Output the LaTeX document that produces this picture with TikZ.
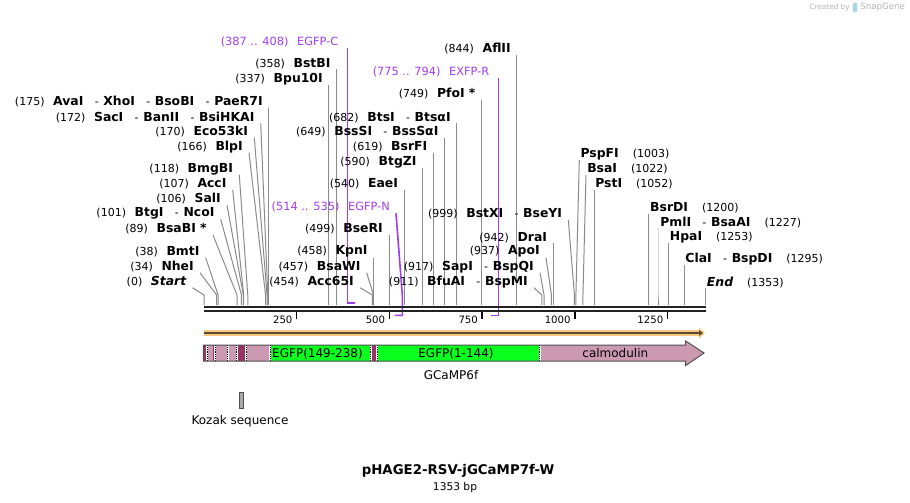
\documentclass[tikz,border=0pt]{standalone}
\usepackage{fontspec}
\setmainfont{DejaVu Sans}
\usetikzlibrary{calc,arrows.meta}
\definecolor{conngray}{HTML}{8A8A8A}
\definecolor{prim}{HTML}{A33CF0}
\definecolor{featpink}{HTML}{CC99B3}
\definecolor{featmaroon}{HTML}{993366}
\definecolor{featgreen}{HTML}{0AFF1E}
\definecolor{orangelight}{HTML}{F7C97C}
\definecolor{orangedark}{HTML}{5C4A2E}
\definecolor{bbcol}{HTML}{222222}
\definecolor{featborder}{HTML}{505050}
\definecolor{kozakfill}{HTML}{A8A8A8}
\definecolor{logoblue}{HTML}{9FD6F5}
\definecolor{sggray}{HTML}{B4B4B4}

\newcommand{\gp}{\hspace{6.5pt}}
\newcommand{\gpR}{\hspace{10.5pt}}
\newcommand{\sepx}{\hspace{8.5pt}-\hspace{3.5pt}}
\newcommand{\nm}[1]{{\fontsize{9.3}{10}\selectfont\bfseries #1}}
\newcommand{\nmi}[1]{{\fontsize{9.3}{10}\selectfont\bfseries\itshape #1}}

\tikzset{
  lab/.style={inner sep=0pt, font=\fontsize{8.25}{10}\selectfont, text=black},
  plab/.style={inner sep=0pt, font=\fontsize{8.5}{10}\selectfont, text=prim},
  conn/.style={draw=conngray, line width=0.75pt},
  pline/.style={draw=prim, line width=1.2pt},
  ftext/.style={inner sep=0pt, font=\fontsize{9}{11}\selectfont, text=black},
  ticklab/.style={inner sep=0pt, font=\fontsize{7.6}{9}\selectfont, text=black},
  tickline/.style={draw=black, line width=1.1pt},
  sepwhite/.style={draw=white, line width=1.5pt},
  sepdot/.style={draw=black, line width=0.6pt, dash pattern=on 0.7pt off 0.7pt},
}

% left label: id, line-start x, y centre, text, bp position
\newcommand{\siteL}[5]{%
  \node[lab,anchor=east] (#1) at ({#2-6},#3) {#4};
  \coordinate (#1k) at ({204+0.3708*#5},295);
  \coordinate (#1s) at ({204+0.3708*#5},305);
  \draw[conn] ($(#1.east)+(6,6)$) -- (#1k) -- (#1s);
}
% right label: id, line-start x, y centre, text, bp position
\newcommand{\siteR}[5]{%
  \node[lab,anchor=west] (#1) at ({#2+1},#3) {#4};
  \coordinate (#1k) at ({204+0.3708*#5},295);
  \coordinate (#1s) at ({204+0.3708*#5},305);
  \draw[conn] ($(#1.west)+(-1,6)$) -- (#1k) -- (#1s);
}

\begin{document}
\begin{tikzpicture}[x=0.75pt,y=-0.75pt]
\useasboundingbox (0,0) rectangle (910,503);

% ---------- primers (drawn first, under backbone) ----------
\node[plab,anchor=east] (egfpc) at ({204+0.3708*387-9},42.3) {(387 .. 408)\gp EGFP-C};
\coordinate (egfpcA) at ({204+0.3708*387},302.7);
\coordinate (egfpcB) at ({204+0.3708*408},302.7);
\draw[pline] ($(egfpc.east)+(9,6)$) -- (egfpcA) -- (egfpcB);

\node[plab,anchor=east] (egfpn) at (390,207.3) {(514 .. 535)\gp EGFP-N};
\coordinate (egfpnK) at ({204+0.3708*535},296);
\coordinate (egfpnB) at ({204+0.3708*535},315.3);
\coordinate (egfpnA) at ({204+0.3708*514},315.3);
\draw[pline] ($(egfpn.east)+(6,6)$) -- (egfpnK) -- (egfpnB) -- (egfpnA);

\node[plab,anchor=east] (exfpr) at ({204+0.3708*794-9},71.7) {(775 .. 794)\gp EXFP-R};
\coordinate (exfprB) at ({204+0.3708*794},315.3);
\coordinate (exfprA) at ({204+0.3708*775},315.3);
\draw[pline] ($(exfpr.east)+(9,6)$) -- (exfprB) -- (exfprA);

% ---------- enzyme sites, left side ----------
\siteL{start}{192.5}{281.7}{(0)\gp\nmi{Start}}{0}
\siteL{nhei}{200}{266.7}{(34)\gp\nm{NheI}}{34}
\siteL{bmti}{205.7}{251.7}{(38)\gp\nm{BmtI}}{38}
\siteL{bsabi}{213}{229}{(89)\gp\nm{BsaBI *}}{89}
\siteL{btgi}{220.7}{213.3}{(101)\gp\nm{BtgI}\sepx\nm{NcoI}}{101}
\siteL{sali}{227}{199}{(106)\gp\nm{SalI}}{106}
\siteL{acci}{232.7}{184}{(107)\gp\nm{AccI}}{107}
\siteL{bmgbi}{239.3}{169}{(118)\gp\nm{BmgBI}}{118}
\siteL{blpi}{249}{146.7}{(166)\gp\nm{BlpI}}{166}
\siteL{ecoi}{254.3}{131.7}{(170)\gp\nm{Eco53kI}}{170}
\siteL{saci}{260.7}{117.3}{(172)\gp\nm{SacI}\sepx\nm{BanII}\sepx\nm{BsiHKAI}}{172}
\siteL{avai}{204+0.3708*175}{101.7}{(175)\gp\nm{AvaI}\sepx\nm{XhoI}\sepx\nm{BsoBI}\sepx\nm{PaeR7I}}{175}
\siteL{bpui}{204+0.3708*337}{79}{(337)\gp\nm{Bpu10I}}{337}
\siteL{bstbi}{204+0.3708*358}{63.3}{(358)\gp\nm{BstBI}}{358}
\siteL{acc65i}{360}{281.7}{(454)\gp\nm{Acc65I}}{454}
\siteL{bsawi}{366.7}{266.7}{(457)\gp\nm{BsaWI}}{457}
\siteL{kpni}{204+0.3708*458}{251.7}{(458)\gp\nm{KpnI}}{458}
\siteL{bseri}{204+0.3708*499}{229}{(499)\gp\nm{BseRI}}{499}
\siteL{eaei}{204+0.3708*540}{184}{(540)\gp\nm{EaeI}}{540}
\siteL{btgzi}{204+0.3708*590}{162.3}{(590)\gp\nm{BtgZI}}{590}
\siteL{bsrfi}{204+0.3708*619}{146.7}{(619)\gp\nm{BsrFI}}{619}
\siteL{bsssi}{204+0.3708*649}{131.7}{(649)\gp\nm{BssSI}\sepx\nm{BssSαI}}{649}
\siteL{btsi}{204+0.3708*682}{117.3}{(682)\gp\nm{BtsI}\sepx\nm{BtsαI}}{682}
\siteL{pfoi}{204+0.3708*749}{94}{(749)\gp\nm{PfoI *}}{749}
\siteL{aflii}{204+0.3708*844}{49}{(844)\gp\nm{AflII}}{844}
\siteL{bfuai}{534}{281.7}{(911)\gp\nm{BfuAI}\sepx\nm{BspMI}}{911}
\siteL{sapi}{540}{266.7}{(917)\gp\nm{SapI}\sepx\nm{BspQI}}{917}
\siteL{apoi}{546}{251.7}{(937)\gp\nm{ApoI}}{937}
\siteL{drai}{204+0.3708*942}{237.3}{(942)\gp\nm{DraI}}{942}
\siteL{bstxi}{568.3}{214}{(999)\gp\nm{BstXI}\sepx\nm{BseYI}}{999}

% ---------- enzyme sites, right side ----------
\siteR{pspfi}{579.3}{154}{\nm{PspFI}\gpR(1003)}{1003}
\siteR{bsai}{586}{169}{\nm{BsaI}\gpR(1022)}{1022}
\siteR{psti}{204+0.3708*1052}{184}{\nm{PstI}\gpR(1052)}{1052}
\siteR{bsrdi}{204+0.3708*1200}{207.7}{\nm{BsrDI}\gpR(1200)}{1200}
\siteR{pmli}{204+0.3708*1227}{222.3}{\nm{PmlI}\sepx\nm{BsaAI}\gpR(1227)}{1227}
\siteR{hpai}{204+0.3708*1253}{237.3}{\nm{HpaI}\gpR(1253)}{1253}
\siteR{clai}{204+0.3708*1295}{259}{\nm{ClaI}\sepx\nm{BspDI}\gpR(1295)}{1295}
\siteR{endl}{204+0.3708*1353}{282.3}{\nmi{End}\gpR(1353)}{1353}

% ---------- backbone ----------
\coordinate (bbL1) at (204,307);
\coordinate (bbR1) at (706,307);
\coordinate (bbL2) at (204,311.3);
\coordinate (bbR2) at (706,311.3);
\draw[draw=bbcol, line width=1.9pt] (bbL1) -- (bbR1);
\draw[draw=bbcol, line width=1.5pt] (bbL2) -- (bbR2);

\foreach \t in {250,500,750,1000,1250} {
  \coordinate (tkA\t) at ({204+0.3708*\t},312);
  \coordinate (tkB\t) at ({204+0.3708*\t},319);
  \draw[tickline] (tkA\t) -- (tkB\t);
  \node[ticklab,anchor=east] (tl\t) at ({204+0.3708*\t-4},319.5) {\t};
}

% ---------- ORF arrow ----------
\coordinate (orfL) at (204,333);
\coordinate (orfR) at (705,333);
\draw[draw=orangelight, line width=4.5pt, -{Triangle[length=4.5pt,width=8pt]}] (orfL) -- (orfR);
\draw[draw=orangedark, line width=1.2pt, -{Triangle[length=3pt,width=4pt]}] (orfL) -- ([xshift=-1.5pt]orfR);

% ---------- feature bar ----------
\begin{scope}
\clip (203.3,345) -- (685.7,345) -- (685.7,341) -- (704,353) -- (685.7,365.5) -- (685.7,361) -- (203.3,361) -- cycle;
\fill[featpink] (203,339) rectangle (706,367);
\fill[featmaroon] (203,339) rectangle (206.3,367);
\fill[featmaroon] (213.4,339) rectangle (214.6,367);
\fill[featmaroon] (236.3,339) rectangle (246.3,367);
\fill[featgreen] (270.5,339) rectangle (370.3,367);
\fill[featmaroon] (370.3,339) rectangle (377.7,367);
\fill[featgreen] (377.7,339) rectangle (538.8,367);
\foreach \s in {206.9,215,227.6,236.6,246,270,370.6,377.4,539.5} {
  \draw[sepwhite] (\s,345) -- (\s,361);
  \draw[sepdot] (\s,345) -- (\s,361);
}
\end{scope}
\draw[draw=featborder, line width=0.75pt] (203.3,345) -- (685.7,345) -- (685.7,341) -- (704,353) -- (685.7,365.5) -- (685.7,361) -- (203.3,361) -- cycle;

\node[ftext] (f1) at (317.5,353.3) {EGFP(149-238)};
\node[ftext] (f2) at (456,353.3) {EGFP(1-144)};
\node[ftext] (f3) at (615.3,353.3) {calmodulin};
\node[ftext] (gcamp) at (451,375) {GCaMP6f};

% ---------- Kozak ----------
\node[draw=featborder, fill=kozakfill, line width=0.6pt, minimum width=3pt, minimum height=12pt, inner sep=0pt] (kozak) at (241,400) {};
\node[ftext] (kozaklab) at (240,421) {Kozak sequence};

% ---------- title ----------
\node[inner sep=0pt, font=\bfseries\fontsize{10}{12}\selectfont] (title) at (458,471) {pHAGE2-RSV-jGCaMP7f-W};
\node[inner sep=0pt, font=\fontsize{8}{10}\selectfont] (bp) at (455,487.5) {1353 bp};

% ---------- watermark ----------
\node[inner sep=0pt, anchor=east, font=\fontsize{5.5}{6}\selectfont, text=sggray] (cb) at (850,7.5) {Created by};
\node[fill=logoblue, minimum width=3pt, minimum height=7pt, inner sep=0pt, rounded corners=0.8pt] (logo) at (855,7.5) {};
\node[inner sep=0pt, anchor=west, font=\fontsize{6.5}{7}\selectfont, text=sggray] (sg) at (860,7.5) {SnapGene};
\end{tikzpicture}
\end{document}
